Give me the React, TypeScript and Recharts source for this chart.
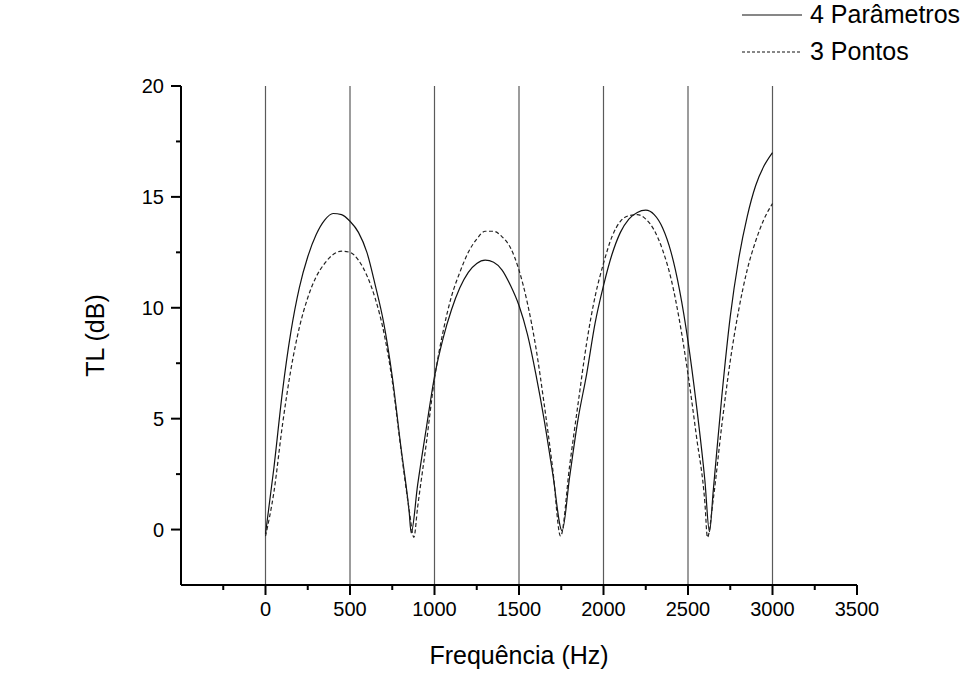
import React from 'react';
import { LineChart, Line, XAxis, YAxis, ReferenceLine } from 'recharts';

// frequency (Hz) / TL (dB)
const freqParams = [0, 50, 100, 150, 200, 250, 300, 350, 400, 450, 500, 550, 600, 650, 700, 750, 800, 850, 862, 900, 950, 1000, 1050, 1100, 1150, 1200, 1250, 1300, 1350, 1400, 1450, 1500, 1550, 1600, 1650, 1700, 1755, 1800, 1850, 1900, 1950, 2000, 2050, 2100, 2150, 2200, 2250, 2300, 2350, 2400, 2450, 2500, 2550, 2600, 2627, 2650, 2700, 2750, 2800, 2850, 2900, 2950, 3000];
const tlParams = [-0.2, 2.8, 6.2, 8.9, 10.9, 12.3, 13.3, 13.95, 14.25, 14.2, 13.9, 13.4, 12.5, 11.0, 9.3, 6.9, 3.8, 0.8, -0.15, 2.0, 4.5, 6.9, 8.6, 9.9, 10.9, 11.6, 12.0, 12.15, 12.05, 11.7, 11.0, 10.1, 8.8, 7.0, 4.9, 2.5, -0.05, 2.4, 5.0, 7.0, 9.3, 11.0, 12.4, 13.4, 14.0, 14.3, 14.4, 14.2, 13.6, 12.5, 10.8, 8.5, 5.6, 2.2, -0.1, 1.8, 6.0, 9.6, 12.2, 14.1, 15.5, 16.4, 17.0];

const freqPoints = [0, 50, 100, 150, 200, 250, 300, 350, 400, 450, 500, 550, 600, 650, 700, 750, 800, 850, 878, 900, 950, 1000, 1050, 1100, 1150, 1200, 1250, 1300, 1350, 1400, 1450, 1500, 1550, 1600, 1650, 1700, 1746, 1800, 1850, 1900, 1950, 2000, 2050, 2100, 2150, 2200, 2250, 2300, 2350, 2400, 2450, 2500, 2550, 2600, 2615, 2650, 2700, 2750, 2800, 2850, 2900, 2950, 3000];
const tlPoints = [-0.3, 1.7, 4.7, 7.2, 9.1, 10.45, 11.4, 12.0, 12.4, 12.55, 12.5, 12.15, 11.45, 10.4, 8.9, 6.7, 3.7, 0.9, -0.35, 1.0, 3.8, 6.8, 8.9, 10.5, 11.6, 12.5, 13.1, 13.45, 13.45, 13.2, 12.7, 11.7, 10.2, 8.2, 5.6, 2.7, -0.3, 2.9, 5.7, 8.4, 10.5, 12.0, 13.2, 13.9, 14.15, 14.2, 14.0, 13.5, 12.6, 11.3, 9.4, 7.0, 4.2, 1.2, -0.35, 1.4, 4.7, 7.6, 9.9, 11.7, 13.0, 14.0, 14.7];

const xTicks = [-500, -250, 0, 250, 500, 750, 1000, 1250, 1500, 1750, 2000, 2250, 2500, 2750, 3000, 3250, 3500];
const yTicks = [-2.5, 0, 2.5, 5, 7.5, 10, 12.5, 15, 17.5, 20];
const gridFreqs = [0, 500, 1000, 1500, 2000, 2500, 3000];

const seriesNames = ['4 Parâmetros', '3 Pontos'];

const FONT = '"Liberation Sans", Arial, sans-serif';

const paramsData = freqParams.map((f, i) => ({ f, tl: tlParams[i] }));
const pointsData = freqPoints.map((f, i) => ({ f, tl: tlPoints[i] }));

const XTick = (props: any) => {
  const { x, y, payload } = props;
  const v = payload.value;
  if (v === -500) return null;
  const major = v % 500 === 0;
  return (
    <g>
      <line x1={x} x2={x} y1={y} y2={y + (major ? 10 : 5)} stroke="#000" strokeWidth={2} />
      {major && (
        <text x={x} y={y + 31} textAnchor="middle" fontSize={20} fontFamily={FONT} fill="#000">
          {v}
        </text>
      )}
    </g>
  );
};

const YTick = (props: any) => {
  const { x, y, payload } = props;
  const v = payload.value;
  if (v === -2.5) return null;
  const major = v % 5 === 0;
  return (
    <g>
      <line x1={x} x2={x - (major ? 10 : 5)} y1={y} y2={y} stroke="#000" strokeWidth={2} />
      {major && (
        <text x={x - 17} y={y + 7} textAnchor="end" fontSize={20} fontFamily={FONT} fill="#000">
          {v}
        </text>
      )}
    </g>
  );
};

export default function App() {
  return (
    <div style={{ position: 'absolute', left: 0, top: 0, width: 979, height: 690, background: '#fff', fontFamily: FONT }}>
      <LineChart width={979} height={690} margin={{ top: 86, right: 122, bottom: 15, left: 81 }}>
        {gridFreqs.map((g) => (
          <ReferenceLine key={g} x={g} stroke="#5a5a5a" strokeWidth={1.2} ifOverflow="extendDomain" />
        ))}
        <XAxis
          type="number"
          dataKey="f"
          domain={[-500, 3500]}
          ticks={xTicks}
          interval={0}
          allowDataOverflow
          height={90}
          tickSize={0}
          tickMargin={0}
          tickLine={false}
          axisLine={{ stroke: '#000', strokeWidth: 2 }}
          tick={<XTick />}
          label={{ value: 'Frequência (Hz)', position: 'insideBottom', offset: 11, fontSize: 25, fontFamily: FONT, fill: '#000' }}
        />
        <YAxis
          type="number"
          dataKey="tl"
          domain={[-2.5, 20]}
          ticks={yTicks}
          interval={0}
          allowDataOverflow
          width={100}
          tickSize={0}
          tickMargin={0}
          tickLine={false}
          axisLine={{ stroke: '#000', strokeWidth: 2 }}
          tick={<YTick />}
          label={{ value: 'TL (dB)', angle: -90, position: 'insideLeft', offset: 14, fontSize: 25, fontFamily: FONT, fill: '#000', style: { textAnchor: 'middle' } }}
        />
        <Line
          data={paramsData}
          dataKey="tl"
          name={seriesNames[0]}
          type="monotone"
          stroke="#111"
          strokeWidth={1.2}
          dot={false}
          isAnimationActive={false}
        />
        <Line
          data={pointsData}
          dataKey="tl"
          name={seriesNames[1]}
          type="monotone"
          stroke="#222"
          strokeWidth={1.2}
          strokeDasharray="4 2.5"
          dot={false}
          isAnimationActive={false}
        />
      </LineChart>
      {/* legend, top right */}
      <div style={{ position: 'absolute', left: 742, top: 2, fontSize: 25, color: '#000', lineHeight: '37px', whiteSpace: 'nowrap' }}>
        {seriesNames.map((n, i) => (
          <div key={n} style={{ display: 'flex', alignItems: 'center', height: 37, marginTop: i === 0 ? -6 : 0 }}>
            <svg width={60} height={10} style={{ marginRight: 8 }}>
              <line x1={0} x2={60} y1={5} y2={5} stroke="#111" strokeWidth={1.2} strokeDasharray={i === 1 ? '3 2' : undefined} />
            </svg>
            <span>{n}</span>
          </div>
        ))}
      </div>
    </div>
  );
}
